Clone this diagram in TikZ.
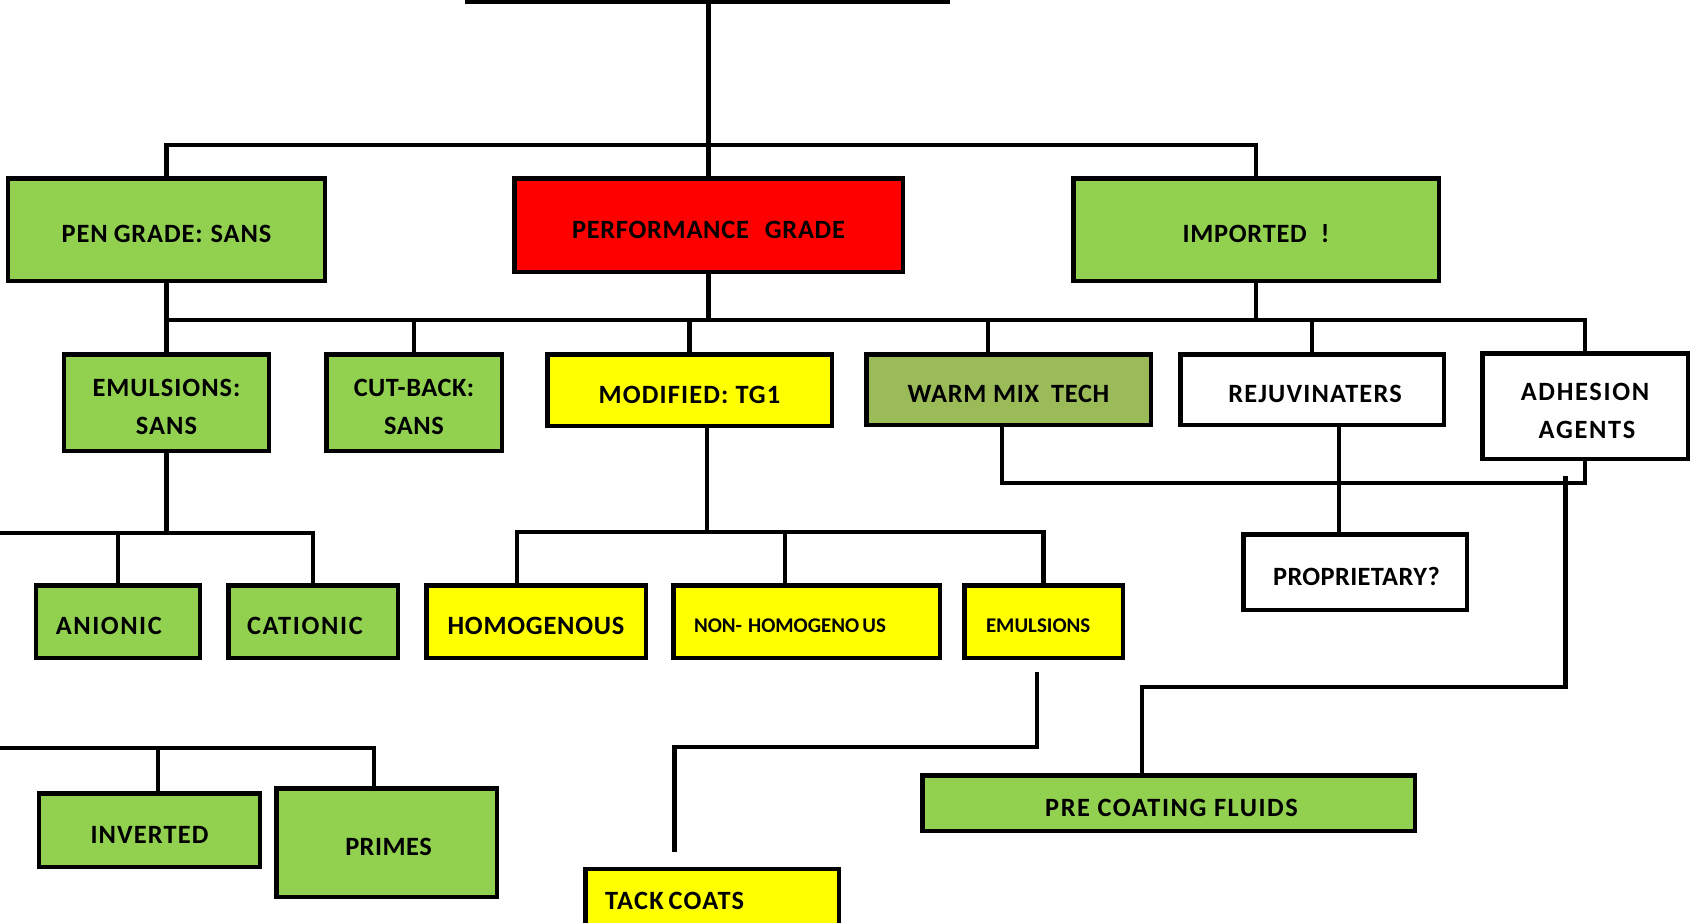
\documentclass[tikz,border=0pt]{standalone}
\usepackage{fontspec}
\setmainfont{Carlito}
\definecolor{grn}{HTML}{92D050}
\definecolor{olv}{HTML}{9BBB59}
\definecolor{ylw}{HTML}{FFFF00}
\definecolor{rd}{HTML}{FF0000}
\newcommand\boxfont[1]{\bfseries\fontsize{26.5}{38}\selectfont\addfontfeature{LetterSpace=#1}}
\newcommand\lowtxt[1]{\raisebox{-4.5bp}[\height][\depth]{#1}}
\tikzset{
  box/.style={draw=black, line width=4.5bp, rectangle, inner sep=0bp, align=center,
    font=\boxfont{3}},
  ls/.style={font=\boxfont{#1}},
  smallbox/.style={box, font=\bfseries\fontsize{21}{26}\selectfont},
  wire/.style={draw=black, line width=4.5bp},
}
\begin{document}
\begin{tikzpicture}[x=1bp, y=-1bp]
\path[use as bounding box, fill=white] (0,0) rectangle (1690,922);

% level 1
\node[box, ls=3.3, fill=grn, minimum width=316.5bp, minimum height=102.5bp] (pen) at (166.5,229.5) {\lowtxt{PEN\hspace{6bp}GRADE:\hspace{8bp}SANS}};
\node[box, ls=2.7, fill=rd, minimum width=388.5bp, minimum height=93.5bp] (perf) at (708.5,225) {\lowtxt{PERFORMANCE\hspace{16bp}GRADE}};
\node[box, ls=2.7, fill=grn, minimum width=365.5bp, minimum height=102.5bp] (imp) at (1256,229.5) {\lowtxt{IMPORTED\hspace{14bp}!}};

% level 2
\node[box, ls=3.8, fill=grn, minimum width=204.5bp, minimum height=96.5bp] (emul) at (166.5,402.5) {\lowtxt{EMULSIONS:}\\\lowtxt{SANS}};
\node[box, ls=1.9, fill=grn, minimum width=175.5bp, minimum height=96.5bp] (cut) at (414,402.5) {\lowtxt{CUT-BACK:}\\\lowtxt{SANS}};
\node[box, ls=4.4, fill=ylw, minimum width=284.5bp, minimum height=71.5bp] (mod) at (689.5,390) {\lowtxt{MODIFIED:\hspace{7bp}TG1}};
\node[box, ls=2.6, fill=olv, minimum width=284.5bp, minimum height=70.5bp] (warm) at (1008.5,389.5) {\lowtxt{WARM MIX\hspace{12bp}TECH}};
\node[box, ls=4.4, fill=white, minimum width=263.5bp, minimum height=70.5bp] (rej) at (1312,389.5) {\lowtxt{\hspace{6bp}REJUVINATERS}};
\node[box, ls=6.4, fill=white, minimum width=205.5bp, minimum height=105.5bp] (adh) at (1585,406) {\lowtxt{ADHESION}\\\lowtxt{\hspace{4bp}AGENTS}};

% level 3
\node[box, ls=1.3, fill=white, minimum width=223.5bp, minimum height=75.5bp] (prop) at (1355,572) {\lowtxt{\hspace{3bp}PROPRIETARY?}};
\node[box, ls=5.7, fill=grn, minimum height=72.5bp, align=left, inner xsep=19.75bp, text width=124bp] (anio) at (118,621.5) {\lowtxt{ANIONIC}};
\node[box, ls=6.3, fill=grn, minimum height=72.5bp, align=left, inner xsep=18.75bp, text width=132bp] (catio) at (313,621.5) {\lowtxt{CATIONIC}};
\node[box, ls=2.9, fill=ylw, minimum width=219.5bp, minimum height=72.5bp] (homo) at (536,621.5) {\lowtxt{HOMOGENOUS}};
\node[smallbox, fill=ylw, minimum height=72.5bp, align=left, inner xsep=20.75bp, text width=225bp] (nonh) at (806.5,621.5) {\lowtxt{NON-\hspace{6bp}HOMOGENO\hspace{3bp}US}};
\node[smallbox, fill=ylw, minimum height=72.5bp, align=left, inner xsep=21.75bp, text width=115bp] (emul2) at (1043.5,621.5) {\lowtxt{EMULSIONS}};

% level 4
\node[box, ls=4.2, fill=grn, minimum width=220.5bp, minimum height=73.5bp] (inv) at (149.5,830) {\lowtxt{INVERTED}};
\node[box, ls=1.8, fill=grn, minimum width=220.5bp, minimum height=108.5bp] (prim) at (386.5,842.5) {\lowtxt{\hspace{4bp}PRIMES}};
\node[box, ls=5.9, fill=grn, minimum width=492.5bp, minimum height=55.5bp] (pre) at (1168.5,803) {\lowtxt{\hspace{6bp}PRE COATING FLUIDS}};
\node[box, ls=4.6, fill=ylw, minimum height=64.5bp, align=left, inner xsep=19.75bp, text width=214bp] (tack) at (712,901) {TACK\hspace{5bp}COATS};

% free ends and bus levels
\coordinate (topL) at (465,1.5);
\coordinate (topR) at (950,1.5);
\coordinate (busA) at (0,145);
\coordinate (busB) at (0,320);
\coordinate (busC) at (0,533);
\coordinate (busD) at (0,532);
\coordinate (busE) at (0,483);
\coordinate (busF) at (0,687);
\coordinate (busG) at (0,747);
\coordinate (leftB) at (0,748);
\coordinate (adhTap) at (1565.5,476);
\coordinate (e2Tap) at (1037,672);
\coordinate (tackTap) at (674.5,852);

% top
\draw[wire] (topL) -- (topR);
\draw[wire] (perf.north |- topL) -- (perf.north);
\draw[wire] (pen.north) -- (pen.north |- busA) -- (imp.north |- busA) -- (imp.north);

% second bus
\draw[wire] (pen.south) -- (pen.south |- busB);
\draw[wire] (perf.south) -- (perf.south |- busB);
\draw[wire] (imp.south) -- (imp.south |- busB);
\draw[wire] (emul.north |- busB) -- (adh.north |- busB) -- (adh.north);
\draw[wire] (emul.north) -- (emul.north |- busB);
\draw[wire] (cut.north) -- (cut.north |- busB);
\draw[wire] (mod.north) -- (mod.north |- busB);
\draw[wire] ([xshift=-20.5bp]warm.north) -- ([xshift=-20.5bp]warm.north |- busB);
\draw[wire] (rej.north) -- (rej.north |- busB);

% emulsions subtree
\draw[wire] (emul.south) -- (emul.south |- busC);
\draw[wire] (busC) -- (catio.north |- busC) -- (catio.north);
\draw[wire] (anio.north) -- (anio.north |- busC);

% modified subtree
\draw[wire] ([xshift=17.5bp]mod.south) -- ([xshift=17.5bp]mod.south |- busD);
\draw[wire] ([xshift=-19bp]homo.north) -- ([xshift=-19bp]homo.north |- busD) -- (emul2.north |- busD) -- (emul2.north);
\draw[wire] ([xshift=-21.5bp]nonh.north) -- ([xshift=-21.5bp]nonh.north |- busD);

% warm mix / adhesion link
\draw[wire] ([xshift=-6.5bp]warm.south) -- ([xshift=-6.5bp]warm.south |- busE) -| (adh.south);
\draw[wire] ([xshift=27bp]rej.south) -- ([xshift=27bp]rej.south |- prop.north);
\draw[wire] (adhTap) |- ([xshift=-26.5bp]pre.north |- busF) -- ([xshift=-26.5bp]pre.north);

% emulsions to tack coats
\draw[wire] (e2Tap) |- (tackTap |- busG) -- (tackTap);

% bottom left
\draw[wire] (leftB) -| ([xshift=-12.5bp]prim.north);
\draw[wire] ([xshift=8.5bp]inv.north) -- ([xshift=8.5bp]inv.north |- leftB);
\end{tikzpicture}
\end{document}
